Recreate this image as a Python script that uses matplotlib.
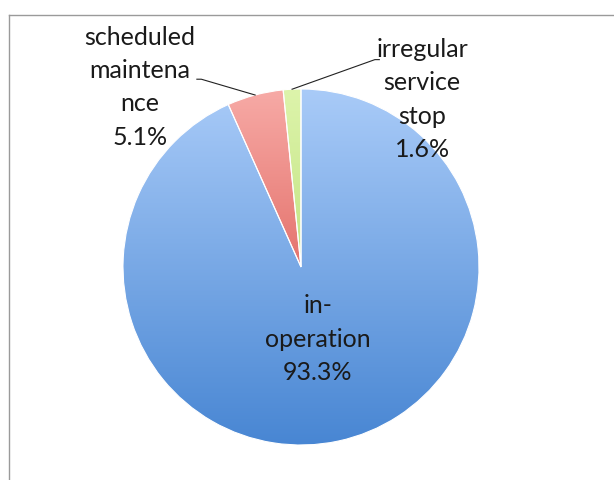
import numpy as np
import matplotlib
matplotlib.use("Agg")
import matplotlib.pyplot as plt
from matplotlib.colors import LinearSegmentedColormap
from matplotlib.lines import Line2D

# data
labels = ["irregular\nservice\nstop", "scheduled\nmaintena\nnce", "in-\noperation"]
shares = [1.6, 5.1, 93.3]
# gradient colours per slice: (top, bottom)
grads = [("#ddf4ab", "#a8d25a"), ("#f7aaa6", "#d23c34"), ("#a9cbf8", "#4886d3")]

plt.rcParams['font.family'] = ['Lato', 'DejaVu Sans']

fig = plt.figure(figsize=(6.14, 4.8), dpi=100)
ax = fig.add_axes([0, 0, 1, 1])

wedges, _ = ax.pie(shares, startangle=90, counterclock=True, radius=1,
                   wedgeprops=dict(edgecolor="white", linewidth=0.8, facecolor="none"))

# fill each wedge with a vertical gradient clipped to its shape
for w, (ctop, cbot) in zip(wedges, grads):
    cmap = LinearSegmentedColormap.from_list("g", [cbot, ctop])
    grad = np.linspace(0, 1, 256).reshape(-1, 1)
    im = ax.imshow(grad, cmap=cmap, extent=(-1, 1, -1, 1), origin="lower",
                   aspect="auto", zorder=0.5)
    im.set_clip_path(w)
    w.set_zorder(1)

# scale: 178 px per unit, pie centre at (301, 267) px
ax.set_xlim(-301 / 178, (614 - 301) / 178)
ax.set_ylim((267 - 480) / 178, 267 / 178)
ax.set_aspect("equal")
ax.axis("off")

txt = dict(fontsize=18, color="#1a1a1a", ha="center", va="center", linespacing=1.55)
pcts = ["%.1f%%" % s for s in shares]

# label positions (data units)
ax.text(0.68, 0.94, labels[0] + "\n" + pcts[0], **txt)
ax.text(-0.905, 1.01, labels[1] + "\n" + pcts[1], **txt)
ax.text(0.095, -0.405, labels[2] + "\n" + pcts[2], **txt)

# leader lines to slice mid-angles
ang = np.cumsum([0] + shares)
mids = 90 + (ang[:-1] + ang[1:]) / 2 * 3.6
p_irr = (np.cos(np.radians(mids[0])), np.sin(np.radians(mids[0])))
p_sch = (np.cos(np.radians(mids[1])), np.sin(np.radians(mids[1])))
ax.plot([0.44, 0.415, p_irr[0]], [1.165, 1.165, p_irr[1]], color="#222222", lw=0.8)
ax.plot([-0.585, -0.56, p_sch[0]], [1.055, 1.055, p_sch[1]], color="#222222", lw=0.8)

# outer frame (only top and left edges visible)
fig.add_artist(Line2D([9 / 614, 9 / 614], [0, 1 - 15 / 480], color="#9a9a9a", lw=1))
fig.add_artist(Line2D([9 / 614, 1], [1 - 15 / 480, 1 - 15 / 480], color="#9a9a9a", lw=1))

fig.savefig("out.png", dpi=100)
